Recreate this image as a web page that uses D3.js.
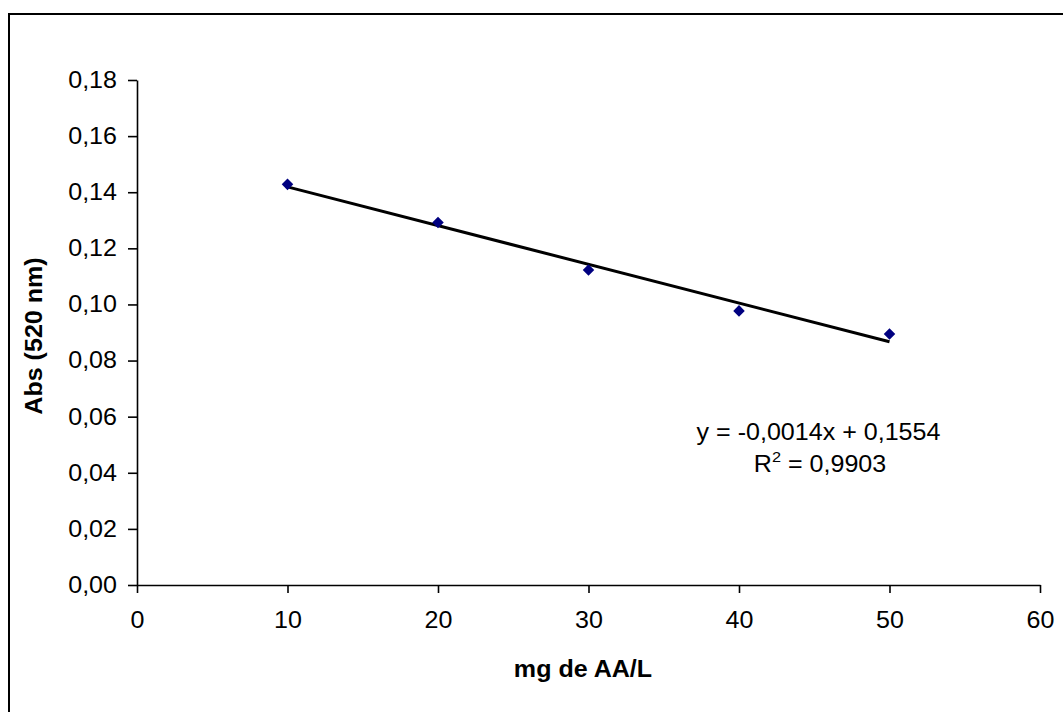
<!DOCTYPE html>
<html>
<head>
<meta charset="utf-8">
<script src="https://cdn.jsdelivr.net/npm/d3@7"></script>
<style>
html,body{margin:0;padding:0;background:#fff;}
svg{display:block;font-family:"Liberation Sans",Arial,sans-serif;}
</style>
</head>
<body>
<svg id="chart" width="1063" height="712"></svg>
<script>
const xValues = [10, 20, 30, 40, 50];
const absValues = [0.1428, 0.1292, 0.1123, 0.0977, 0.0895];
const xTicks = [0, 10, 20, 30, 40, 50, 60];
const yTicks = [0, 0.02, 0.04, 0.06, 0.08, 0.10, 0.12, 0.14, 0.16, 0.18];
const equationLine = "y = -0,0014x + 0,1554";
const r2Value = " = 0,9903";
const xTitle = "mg de AA/L";
const yTitle = "Abs (520 nm)";

const SX = 1.09, FS = 23;
const svg = d3.select("#chart");
svg.append("rect").attr("x", 9).attr("y", 14).attr("width", 1080).attr("height", 720)
  .attr("fill", "#fff").attr("stroke", "#000").attr("stroke-width", 2);

const x = d3.scaleLinear().domain([0, 60]).range([137, 1040]);
const y = d3.scaleLinear().domain([0, 0.18]).range([585, 80]);
const fmt = d => d3.format(".2f")(d).replace(".", ",");

const xAxis = svg.append("g").attr("transform", "translate(0,585)")
  .call(d3.axisBottom(x).tickValues(xTicks).tickSize(8).tickSizeOuter(0).tickPadding(19));
const yAxis = svg.append("g").attr("transform", "translate(137,0)")
  .call(d3.axisLeft(y).tickValues(yTicks).tickFormat(fmt).tickSize(9).tickSizeOuter(0).tickPadding(11));
[xAxis, yAxis].forEach(g => {
  g.selectAll("path,line").attr("stroke", "#000").attr("stroke-width", 1.6);
  g.selectAll("text").attr("font-size", FS).attr("fill", "#000")
    .attr("font-family", "'Liberation Sans',Arial,sans-serif")
    .attr("transform", `scale(${SX},1)`);
});
yAxis.selectAll("text").attr("x", -20 / SX);

// regression trendline
const mx = d3.mean(xValues), my = d3.mean(absValues);
const slope = d3.sum(xValues.map((v, i) => (v - mx) * (absValues[i] - my))) /
  d3.sum(xValues.map(v => (v - mx) ** 2));
const intercept = my - slope * mx;
const ext = d3.extent(xValues);
svg.append("line")
  .attr("x1", x(ext[0])).attr("y1", y(intercept + slope * ext[0]))
  .attr("x2", x(ext[1])).attr("y2", y(intercept + slope * ext[1]))
  .attr("stroke", "#000").attr("stroke-width", 3);

// markers
svg.append("g").selectAll("path").data(xValues).join("path")
  .attr("d", d3.symbol().type(d3.symbolDiamond2).size(85))
  .attr("transform", (d, i) => `translate(${x(d)},${y(absValues[i])})`)
  .attr("fill", "#000080");

// equation
svg.append("text").attr("font-size", FS).attr("text-anchor", "middle").attr("fill", "#000")
  .attr("transform", `translate(818.5,440) scale(${SX},1)`).text(equationLine);
const r2 = svg.append("text").attr("font-size", FS).attr("text-anchor", "middle").attr("fill", "#000")
  .attr("transform", `translate(820,472) scale(${SX},1)`);
r2.append("tspan").text("R");
r2.append("tspan").attr("font-size", 15).attr("dy", -10).text("2");
r2.append("tspan").attr("dy", 10).text(r2Value);

// titles
svg.append("text").attr("transform", `translate(583,677) scale(${SX},1)`).attr("text-anchor", "middle")
  .attr("font-size", FS).attr("font-weight", "bold").text(xTitle);
svg.append("text").attr("transform", `translate(42,336) rotate(-90) scale(${SX},1)`).attr("text-anchor", "middle")
  .attr("font-size", FS).attr("font-weight", "bold").text(yTitle);
</script>
</body>
</html>
